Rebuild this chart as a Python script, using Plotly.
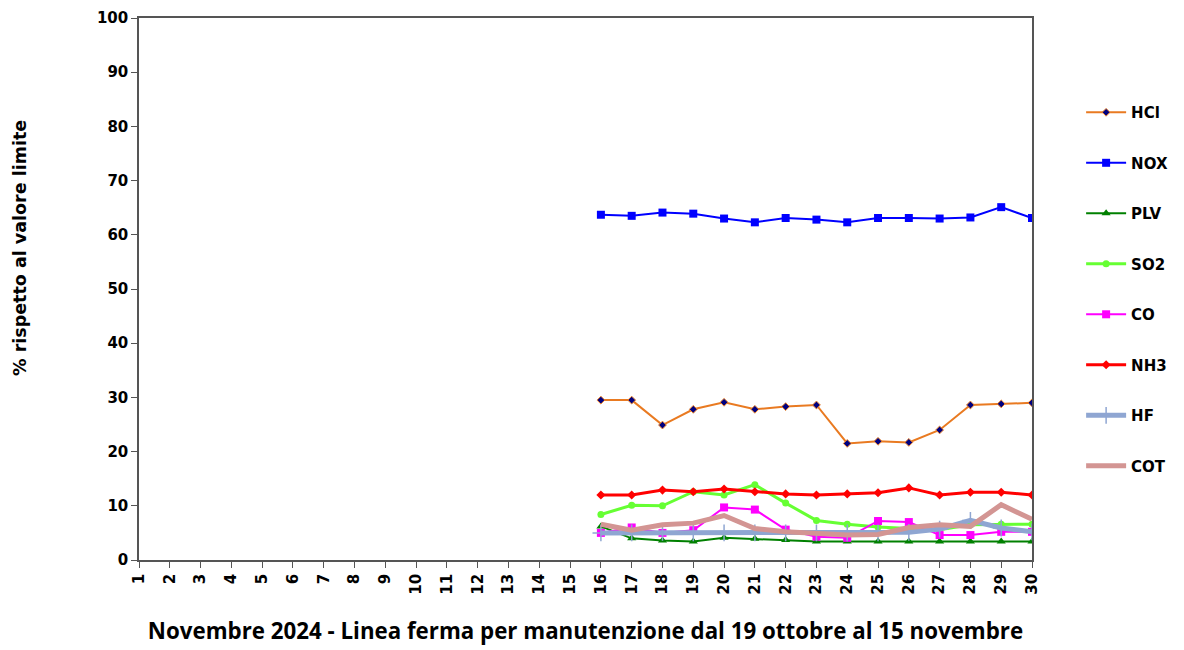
import plotly.graph_objects as go

days = list(range(1, 31))
tick_labels = [str(d) for d in days]
x_data = list(range(16, 31))

hcl = [29.5, 29.5, 24.9, 27.8, 29.1, 27.8, 28.3, 28.6, 21.5, 21.9, 21.7, 24.0, 28.6, 28.8, 29.0]
nox = [63.7, 63.5, 64.1, 63.9, 63.0, 62.3, 63.1, 62.8, 62.3, 63.1, 63.1, 63.0, 63.2, 65.1, 63.1]
plv = [6.2, 4.0, 3.6, 3.4, 4.1, 3.9, 3.7, 3.4, 3.4, 3.4, 3.4, 3.4, 3.4, 3.4, 3.4]
so2 = [8.4, 10.1, 10.0, 12.6, 12.0, 13.9, 10.5, 7.3, 6.6, 6.1, 5.8, 5.6, 6.5, 6.6, 6.6]
co = [5.0, 6.0, 5.0, 5.5, 9.7, 9.3, 5.6, 4.3, 4.1, 7.2, 7.0, 4.6, 4.6, 5.2, 5.2]
nh3 = [12.0, 12.0, 12.9, 12.6, 13.1, 12.6, 12.2, 12.0, 12.2, 12.4, 13.3, 12.0, 12.5, 12.5, 12.0]
hf = [5.0, 5.0, 5.1, 5.0, 5.0, 5.0, 5.0, 5.0, 5.0, 5.0, 5.1, 5.7, 7.3, 5.9, 5.2]
cot = [6.6, 5.5, 6.5, 6.8, 8.2, 5.8, 5.2, 4.9, 4.6, 4.7, 6.0, 6.5, 6.2, 10.2, 7.5]

fig = go.Figure()

def add(name, y, color, width, symbol=None, msize=6, mcolor=None, mline=None):
    kw = dict(x=x_data, y=y, name="<b>%s</b>" % name, legendgroup=name,
              line=dict(color=color, width=width))
    if symbol:
        kw["mode"] = "lines+markers"
        kw["marker"] = dict(symbol=symbol, size=msize, color=mcolor or color,
                            line=dict(color=mline or color, width=1 if mline else 0))
    else:
        kw["mode"] = "lines"
    fig.add_trace(go.Scatter(**kw))

add("HCl", hcl, "#E97A21", 2, "diamond", 6, "#000080", "#F08A30")
add("NOX", nox, "#0000FF", 2, "square", 8)
add("PLV", plv, "#008000", 2, "triangle-up", 8)
add("SO2", so2, "#66FF33", 3, "circle", 7)
add("CO", co, "#FF00FF", 2, "square", 8)
add("NH3", nh3, "#FF0000", 3, "diamond", 7)
fig.add_trace(go.Scatter(x=x_data, y=hf, name="<b>HF</b>", legendgroup="HF", mode="lines+markers",
                         line=dict(color="#8FA6D2", width=5),
                         marker=dict(symbol="cross-thin", size=12, color="#8FA6D2",
                                     line=dict(color="#8FA6D2", width=1.5))))
add("COT", cot, "#D39593", 5)

tick_font = dict(family="DejaVu Sans", size=15, color="#000000")

fig.update_layout(
    width=1176, height=642,
    margin=dict(l=131, r=152, t=10, b=90),
    plot_bgcolor="white", paper_bgcolor="white",
    showlegend=True,
    legend=dict(x=1.055, xanchor="left", y=0.856, yanchor="top",
                font=dict(family="DejaVu Sans", size=15, color="#000000"),
                tracegroupgap=28, itemwidth=40, bgcolor="rgba(0,0,0,0)",
                traceorder="grouped"),
    xaxis=dict(
        range=[1, 30], tickmode="array", tickvals=days, ticktext=["<b>%s</b>" % t for t in tick_labels],
        tickangle=-90, ticks="outside", ticklen=6, tickcolor="#555",
        showline=True, linecolor="#555", linewidth=1.5, mirror=True,
        showgrid=False, zeroline=False, tickfont=tick_font, automargin=False,
        ticklabeloverflow="allow",
        title=dict(text="<b>Novembre 2024 - Linea ferma per manutenzione dal 19 ottobre al 15 novembre</b>",
                   font=dict(family="Open Sans", size=22.3, color="#000000"), standoff=30),
    ),
    yaxis=dict(
        range=[0, 100], tickmode="array", tickvals=list(range(0, 101, 10)),
        ticktext=["<b>%d</b>" % v for v in range(0, 101, 10)],
        ticks="outside", ticklen=6, tickcolor="#555",
        showline=True, linecolor="#555", linewidth=1.5, mirror=True,
        showgrid=False, zeroline=False, tickfont=tick_font, automargin=False,
        ticklabeloverflow="allow",
    ),
    annotations=[dict(
        text="<b>% rispetto al valore limite</b>", textangle=-90,
        xref="paper", yref="paper", x=-0.1333, y=0.5756,
        xanchor="center", yanchor="middle", showarrow=False,
        font=dict(family="DejaVu Sans", size=17.5, color="#000000"),
    )],
)

fig.write_html("out.html")
